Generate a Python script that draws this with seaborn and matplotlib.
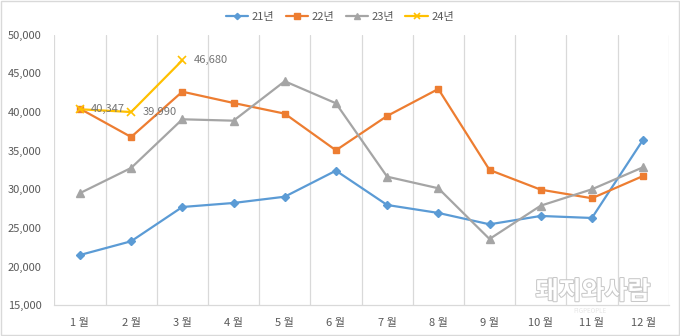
import numpy as np
import pandas as pd
import matplotlib
matplotlib.use("Agg")
import matplotlib.pyplot as plt
import matplotlib.patheffects as pe
from matplotlib.patches import Rectangle
from matplotlib.ticker import FuncFormatter, MultipleLocator
import seaborn as sns

months = ["1 월", "2 월", "3 월", "4 월", "5 월", "6 월",
          "7 월", "8 월", "9 월", "10 월", "11 월", "12 월"]
y21 = [21500, 23280, 27710, 28230, 29040, 32410, 27970, 26940, 25470, 26550, 26290, 36410]
y22 = [40420, 36760, 42620, 41160, 39780, 35040, 39480, 42970, 32500, 29950, 28840, 31720]
y23 = [29500, 32760, 39050, 38870, 43970, 41120, 31630, 30130, 23570, 27880, 30000, 32850]
y24 = [40347, 39990, 46680]
series_names = ["21년", "22년", "23년", "24년"]

sns.set_theme(style="white")
plt.rcParams["font.family"] = ["Noto Sans CJK KR", "DejaVu Sans"]

fig = plt.figure(figsize=(6.8, 3.36), dpi=100)
ax = fig.add_axes([0.0799, 0.0914, 0.9035, 0.8056])

styles = [
    (y21, "#5B9BD5", "D", 4.0, 1.0),
    (y22, "#ED7D31", "s", 5.0, 1.0),
    (y23, "#A5A5A5", "^", 5.5, 1.0),
    (y24, "#FFC000", "x", 6.0, 1.2),
]
for (vals, col, mk, ms, mew), name in zip(styles, series_names):
    df = pd.DataFrame({"x": np.arange(len(vals)), "y": vals})
    sns.lineplot(data=df, x="x", y="y", ax=ax, color=col, marker=mk,
                 markersize=ms, markeredgecolor=col, markerfacecolor=col,
                 markeredgewidth=mew, linewidth=1.6, label=name)

for i, v in enumerate(y24):
    ax.annotate(f"{v:,}", (i, v), xytext=(8, 0), textcoords="offset points",
                ha="left", va="center", fontsize=8, color="#757575")

ax.set_xlim(-0.5, 11.5)
ax.set_ylim(15000, 50000)
ax.yaxis.set_major_locator(MultipleLocator(5000))
ax.yaxis.set_major_formatter(FuncFormatter(lambda v, p: f"{int(v):,}"))
ax.set_xticks(np.arange(12))
ax.set_xticklabels(months)
ax.set_xticks(np.arange(-0.5, 12, 1), minor=True)
ax.grid(False)
ax.grid(True, which="minor", axis="x", color="#D9D9D9", linewidth=0.9)
ax.tick_params(axis="both", which="both", length=0, labelsize=8, labelcolor="#595959")
ax.tick_params(axis="x", pad=9)
ax.tick_params(axis="y", pad=9)
ax.set_xlabel("")
ax.set_ylabel("")
for s in ["top", "right", "left"]:
    ax.spines[s].set_visible(False)
ax.spines["bottom"].set_color("#D9D9D9")
ax.spines["bottom"].set_linewidth(0.9)

leg = ax.legend(loc="lower center", bbox_to_anchor=(0.465, 1.03), ncol=4,
                frameon=False, fontsize=8, handlelength=2.0, columnspacing=1.0,
                handletextpad=0.35, borderaxespad=0, markerscale=0.8)
for t in leg.get_texts():
    t.set_color("#595959")

fig.text(0.872, 0.131, "돼지와사람", fontsize=18, color="white", ha="center", va="center",
         fontweight="bold",
         path_effects=[pe.withStroke(linewidth=1.5, foreground="#C8C8C8")])
fig.text(0.868, 0.073, "PIGPEOPLE", fontsize=4.5, color="#E6E6E6", ha="center", va="center")

fig.patches.append(Rectangle((0.001, 0.002), 0.997, 0.995, transform=fig.transFigure,
                             fill=False, edgecolor="#D9D9D9", linewidth=1.0))

fig.savefig("out.png", dpi=100, facecolor="white")
